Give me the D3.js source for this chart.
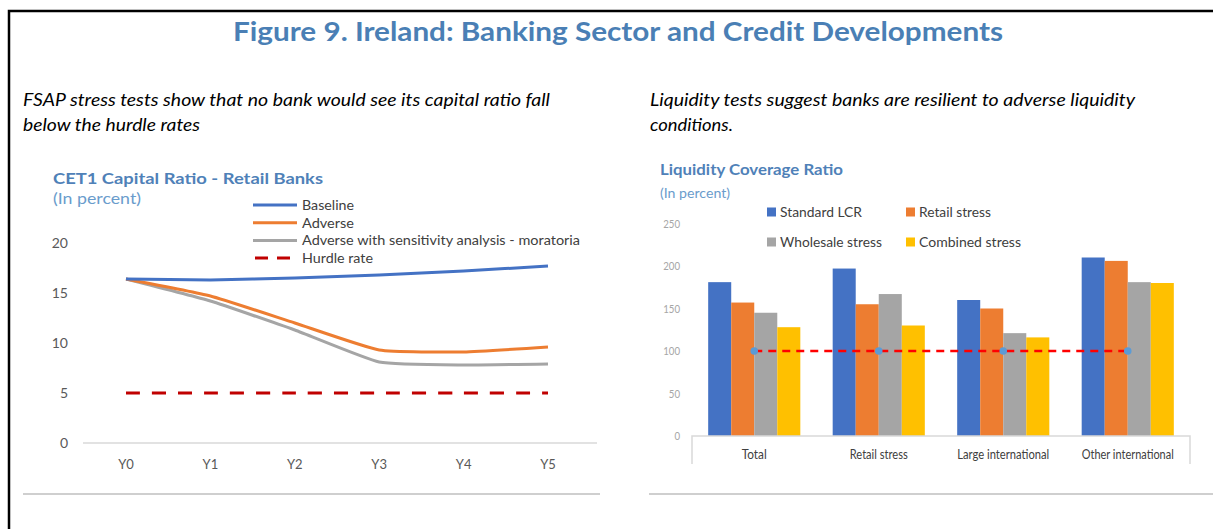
<!DOCTYPE html>
<html>
<head>
<meta charset="utf-8">
<script src="https://cdn.jsdelivr.net/npm/d3@7"></script>
<style>
  body { margin: 0; background: #fff; }
  svg { display: block; font-family: Lato, "Open Sans", sans-serif; }
</style>
</head>
<body>
<svg width="1213" height="529"></svg>
<script>
// left chart: CET1 capital ratio
var years = ["Y0", "Y1", "Y2", "Y3", "Y4", "Y5"];
var baseline = [16.4, 16.3, 16.5, 16.8, 17.2, 17.7];
var adverse = [16.4, 14.7, 12.0, 9.3, 9.1, 9.6];
var adverseMoratoria = [16.4, 14.2, 11.3, 8.1, 7.8, 7.9];
var hurdle = [5, 5, 5, 5, 5, 5];
var cetTicks = [0, 5, 10, 15, 20];

// right chart: liquidity coverage ratio
var groups = ["Total", "Retail stress", "Large international", "Other international"];
var standardLCR = [181, 197, 160, 210];
var retailStress = [157, 155, 150, 206];
var wholesaleStress = [145, 167, 121, 181];
var combinedStress = [128, 130, 116, 180];
var lcrMinimum = [100, 100, 100, 100];
var lcrTicks = [0, 50, 100, 150, 200, 250];

var svg = d3.select("svg");
var blue = "#4a7fb5";

// stretch a text to a given width
function fit(sel, w) {
    sel.attr("textLength", w).attr("lengthAdjust", "spacingAndGlyphs");
    return sel;
}

// frame
svg.append("path")
    .attr("d", "M9,529 V11 H1213")
    .attr("fill", "none")
    .attr("stroke", "#000")
    .attr("stroke-width", 2.5);

fit(svg.append("text")
    .attr("x", 233).attr("y", 41)
    .attr("font-size", 27).attr("font-weight", "bold")
    .attr("fill", blue)
    .text("Figure 9. Ireland: Banking Sector and Credit Developments"), 770);

var notes = [
    { x: 23, y: 106, t: "FSAP stress tests show that no bank would see its capital ratio fall", w: 527 },
    { x: 23, y: 131, t: "below the hurdle rates", w: 177 },
    { x: 650, y: 106, t: "Liquidity tests suggest banks are resilient to adverse liquidity", w: 485 },
    { x: 650, y: 131, t: "conditions.", w: 83 }
];
notes.forEach(function (n) {
    fit(svg.append("text")
        .attr("x", n.x).attr("y", n.y)
        .attr("font-size", 16.5).attr("font-style", "italic")
        .attr("fill", "#000")
        .text(n.t), n.w);
});

// panel separators
svg.append("line").attr("x1", 23).attr("x2", 600).attr("y1", 494).attr("y2", 494)
    .attr("stroke", "#bfbfbf").attr("stroke-width", 1.5);
svg.append("line").attr("x1", 649).attr("x2", 1213).attr("y1", 494).attr("y2", 494)
    .attr("stroke", "#bfbfbf").attr("stroke-width", 1.5);

// ---------- left chart ----------
var left = svg.append("g");

fit(left.append("text").attr("x", 53).attr("y", 184)
    .attr("font-size", 16).attr("font-weight", "bold").attr("fill", "#4f81b8")
    .text("CET1 Capital Ratio - Retail Banks"), 270);
fit(left.append("text").attr("x", 53).attr("y", 204)
    .attr("font-size", 15).attr("fill", "#6a9ccc")
    .text("(In percent)"), 88);

var x1 = d3.scalePoint().domain(years).range([126, 548]);
var y1 = d3.scaleLinear().domain([0, 20]).range([443, 243]);

left.append("line").attr("x1", 83).attr("x2", 597).attr("y1", y1(0)).attr("y2", y1(0))
    .attr("stroke", "#d9d9d9").attr("stroke-width", 1.5);

left.append("g").selectAll("text").data(cetTicks).enter().append("text")
    .attr("x", 68).attr("y", function (d) { return y1(d) + 5; })
    .attr("text-anchor", "end")
    .attr("font-size", 14).attr("fill", "#595959")
    .text(function (d) { return d; });

left.append("g").selectAll("text").data(years).enter().append("text")
    .attr("x", function (d) { return x1(d); }).attr("y", 469)
    .attr("text-anchor", "middle")
    .attr("font-size", 13).attr("fill", "#595959")
    .text(function (d) { return d; });

var cetSeries = [
    { name: "Baseline", values: baseline, color: "#4472c4", dash: null },
    { name: "Adverse", values: adverse, color: "#ed7d31", dash: null },
    { name: "Adverse with sensitivity analysis - moratoria", values: adverseMoratoria, color: "#a5a5a5", dash: null },
    { name: "Hurdle rate", values: hurdle, color: "#c00000", dash: "14,12" }
];

var line1 = d3.line()
    .x(function (d, i) { return x1(years[i]); })
    .y(function (d) { return y1(d); })
    .curve(d3.curveCardinal.tension(0.55));

// draw bottom-up so baseline stays on top
cetSeries.slice().reverse().forEach(function (s) {
    left.append("path")
        .attr("d", line1(s.values))
        .attr("fill", "none")
        .attr("stroke", s.color)
        .attr("stroke-width", 3)
        .attr("stroke-dasharray", s.dash);
});

var legW = [52, 52, 278, 71];
var leg1 = left.append("g").selectAll("g").data(cetSeries).enter().append("g")
    .attr("transform", function (d, i) { return "translate(253," + (205 + i * 17.7) + ")"; });
leg1.append("line").attr("x1", function (d) { return d.dash ? 2 : 0; }).attr("x2", 44)
    .attr("stroke", function (d) { return d.color; })
    .attr("stroke-width", 3)
    .attr("stroke-dasharray", function (d) { return d.dash ? "13,9" : null; });
leg1.append("text").attr("x", 49).attr("y", 5)
    .attr("font-size", 13.5).attr("fill", "#404040")
    .text(function (d) { return d.name; })
    .each(function (d, i) { fit(d3.select(this), legW[i]); });

// ---------- right chart ----------
var right = svg.append("g");

fit(right.append("text").attr("x", 660).attr("y", 175)
    .attr("font-size", 15.5).attr("font-weight", "bold").attr("fill", "#4f81b8")
    .text("Liquidity Coverage Ratio"), 183);
fit(right.append("text").attr("x", 660).attr("y", 198)
    .attr("font-size", 14).attr("fill", "#6a9ccc")
    .text("(In percent)"), 70);

var x2 = d3.scaleBand().domain(groups).range([692, 1190]).paddingInner(0.26).paddingOuter(0.13);
var y2 = d3.scaleLinear().domain([0, 250]).range([436, 223.5]);

var barSeries = [
    { name: "Standard LCR", values: standardLCR, color: "#4472c4" },
    { name: "Retail stress", values: retailStress, color: "#ed7d31" },
    { name: "Wholesale stress", values: wholesaleStress, color: "#a5a5a5" },
    { name: "Combined stress", values: combinedStress, color: "#ffc000" }
];
var xs = d3.scaleBand().domain(d3.range(barSeries.length)).range([0, x2.bandwidth()]);

right.append("g").selectAll("text").data(lcrTicks).enter().append("text")
    .attr("x", 680).attr("y", function (d) { return y2(d) + 4; })
    .attr("text-anchor", "end")
    .attr("font-size", 11.5).attr("fill", "#a6a6a6")
    .text(function (d) { return d; })
    .each(function (d) { fit(d3.select(this), String(d).length * 5.6); });

barSeries.forEach(function (s, si) {
    right.append("g").selectAll("rect").data(s.values).enter().append("rect")
        .attr("x", function (d, i) { return x2(groups[i]) + xs(si); })
        .attr("y", function (d) { return y2(d); })
        .attr("width", xs.bandwidth())
        .attr("height", function (d) { return y2(0) - y2(d); })
        .attr("fill", s.color);
});

// category axis box
right.append("path")
    .attr("d", "M692,464 V436 H1190 V464")
    .attr("fill", "none").attr("stroke", "#d9d9d9").attr("stroke-width", 1.5);

var catW = [25, 58, 92, 92];
right.append("g").selectAll("text").data(groups).enter().append("text")
    .attr("x", function (d) { return x2(d) + x2.bandwidth() / 2; }).attr("y", 459)
    .attr("text-anchor", "middle")
    .attr("font-size", 12.5).attr("fill", "#404040")
    .text(function (d) { return d; })
    .each(function (d, i) { fit(d3.select(this), catW[i]); });

// 100% minimum line
var line2 = d3.line()
    .x(function (d, i) { return x2(groups[i]) + x2.bandwidth() / 2; })
    .y(function (d) { return y2(d); });
right.append("path")
    .attr("d", line2(lcrMinimum))
    .attr("fill", "none").attr("stroke", "#ff0000")
    .attr("stroke-width", 2.5).attr("stroke-dasharray", "8,6");
right.append("g").selectAll("circle").data(lcrMinimum).enter().append("circle")
    .attr("cx", function (d, i) { return x2(groups[i]) + x2.bandwidth() / 2; })
    .attr("cy", function (d) { return y2(d); })
    .attr("r", 3.8).attr("fill", "#5b9bd5");

// legend
var legPos = [[767, 212], [906, 212], [767, 242], [906, 242]];
var legTW = [82, 72, 102, 102];
var leg2 = right.append("g").selectAll("g").data(barSeries).enter().append("g")
    .attr("transform", function (d, i) { return "translate(" + legPos[i][0] + "," + legPos[i][1] + ")"; });
leg2.append("rect").attr("x", 0).attr("y", -4.5).attr("width", 9).attr("height", 9)
    .attr("fill", function (d) { return d.color; });
leg2.append("text").attr("x", 13).attr("y", 5)
    .attr("font-size", 14).attr("fill", "#404040")
    .text(function (d) { return d.name; })
    .each(function (d, i) { fit(d3.select(this), legTW[i]); });
</script>
</body>
</html>
